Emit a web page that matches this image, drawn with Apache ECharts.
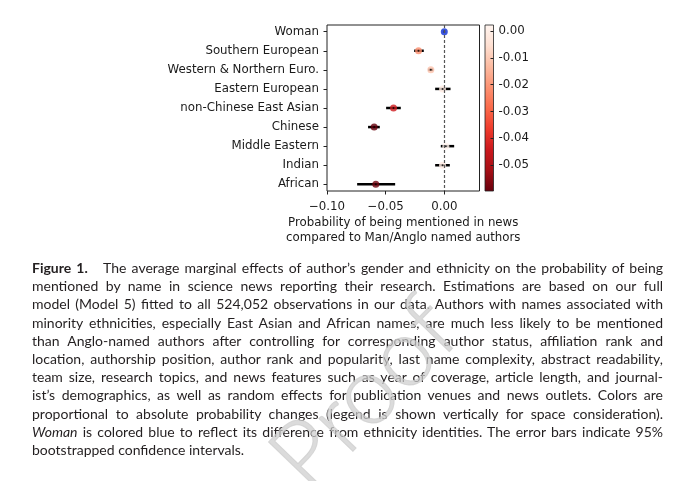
<!DOCTYPE html>
<html>
<head>
<meta charset="utf-8">
<script src="https://cdn.jsdelivr.net/npm/echarts@6.0.0/dist/echarts.min.js"></script>
<style>
html, body { margin: 0; padding: 0; background: #fff; }
#wrap { position: relative; width: 680px; height: 481px; overflow: hidden; }
#chart { position: absolute; left: 0; top: 0; width: 680px; height: 481px; }
#caption { position: absolute; left: 32px; top: 259px; width: 631px;
  font-family: Lato, "Noto Sans", sans-serif; font-size: 14px; line-height: 18.2px; color: #231f20; }
#caption div { text-align: justify; text-align-last: justify; }
#caption div.last { text-align-last: left; }
#proof { position: absolute; left: 244px; top: 343px; width: 234px; height: 95px; text-align: center;
  font-family: Lato, sans-serif; font-size: 95px; font-weight: 300; line-height: 95px;
  color: rgba(205,205,205,0.72); -webkit-text-stroke: 1px rgba(205,205,205,0.72);
  transform: rotate(-46deg); transform-origin: 50% 50%; pointer-events: none; }
</style>
</head>
<body>
<div id="wrap">
  <div id="chart"></div>
  <div id="caption">
    <div><b>Figure 1.</b>&nbsp;&nbsp; The average marginal effects of author’s gender and ethnicity on the probability of being</div>
    <div>mentioned by name in science news reporting their research. Estimations are based on our full</div>
    <div>model (Model 5) fitted to all 524,052 observations in our data. Authors with names associated with</div>
    <div>minority ethnicities, especially East Asian and African names, are much less likely to be mentioned</div>
    <div>than Anglo-named authors after controlling for corresponding author status, affiliation rank and</div>
    <div>location, authorship position, author rank and popularity, last name complexity, abstract readability,</div>
    <div>team size, research topics, and news features such as year of coverage, article length, and journal-</div>
    <div>ist’s demographics, as well as random effects for publication venues and news outlets. Colors are</div>
    <div>proportional to absolute probability changes (legend is shown vertically for space consideration).</div>
    <div><i>Woman</i> is colored blue to reflect its difference from ethnicity identities. The error bars indicate 95%</div>
    <div class="last">bootstrapped confidence intervals.</div>
  </div>
  <div id="proof">Proof</div>
</div>
<script>
// categories top to bottom
var cats = ['Woman', 'Southern European', 'Western & Northern Euro.', 'Eastern European',
    'non-Chinese East Asian', 'Chinese', 'Middle Eastern', 'Indian', 'African'];
// average marginal effect and 95% interval
var est    = [0.0000, -0.0220, -0.0115, -0.0015, -0.0433, -0.0598, 0.0013, -0.0015, -0.0584];
var ciLow  = [-0.0008, -0.0257, -0.0135, -0.0078, -0.0496, -0.0650, -0.0030, -0.0078, -0.0743];
var ciHigh = [0.0008, -0.0175, -0.0095, 0.0053, -0.0371, -0.0550, 0.0084, 0.0047, -0.0419];
var xTicks = [-0.10, -0.05, 0.00];
var cbTicks = [0.00, -0.01, -0.02, -0.03, -0.04, -0.05];
var cbMin = -0.0596;
var cbMax = 0.0022;
// matplotlib Reds, light to dark
var reds = ['#fff5f0', '#fee0d2', '#fcbba1', '#fc9272', '#fb6a4a', '#ef3b2c', '#cb181d', '#a50f15', '#67000d'];
var womanColor = '#0b2dd4';

var font = "'DejaVu Sans'";
var txt = '#1a1a1a';
var fs = 11.8;

var idx = [];
for (var i = 0; i < cats.length; i++) idx.push(i);

var bars = [];
var pts = [];
var dots = [];
for (var i = 0; i < cats.length; i++) {
    bars.push([ciLow[i], ciHigh[i], i]);
    if (i > 0) {
        pts.push([est[i], i]);
        dots.push([est[i], i]);
    }
}

var myChart = echarts.init(document.getElementById('chart'));
var option = {
    animation: false,
    textStyle: { fontFamily: font },
    grid: [
        { left: 327, top: 25, width: 152.5, height: 166, show: true, borderColor: '#222', borderWidth: 1 },
        { left: 485, top: 25, width: 8.5, height: 166, show: false }
    ],
    visualMap: {
        show: false,
        type: 'continuous',
        seriesIndex: 1,
        dimension: 0,
        min: cbMin,
        max: cbMax,
        inRange: { color: reds.slice().reverse() }
    },
    xAxis: [
        {
            gridIndex: 0, type: 'value', min: -0.10, max: 0.03, position: 'bottom',
            axisLine: { show: false, onZero: false },
            splitLine: { show: false },
            axisTick: { show: true, length: 3.5, customValues: xTicks, lineStyle: { color: '#222', width: 1 } },
            axisLabel: {
                customValues: xTicks, margin: 10, fontSize: fs, color: txt, fontFamily: font,
                formatter: function (v) { return (v < 0 ? '\u2212' : '') + Math.abs(v).toFixed(2); }
            },
            name: 'Probability of being mentioned in news\ncompared to Man/Anglo named authors',
            nameLocation: 'middle',
            nameGap: 25,
            nameTextStyle: { fontSize: fs, lineHeight: 14.5, color: txt, fontFamily: font }
        },
        { gridIndex: 1, type: 'value', min: 0, max: 1, show: false, axisLine: { onZero: false } }
    ],
    yAxis: [
        {
            gridIndex: 0, type: 'value', inverse: true, min: -0.35, max: 8.35, position: 'left',
            axisLine: { show: false, onZero: false },
            splitLine: { show: false },
            axisTick: { show: true, length: 3.5, customValues: idx, lineStyle: { color: '#222', width: 1 } },
            axisLabel: {
                customValues: idx, margin: 8, fontSize: fs, color: txt, fontFamily: font,
                formatter: function (v) { return cats[Math.round(v)]; }
            }
        },
        {
            gridIndex: 1, type: 'value', position: 'right', min: cbMin, max: cbMax,
            axisLine: { show: false, onZero: false },
            splitLine: { show: false },
            axisTick: { show: true, inside: true, length: 3, customValues: cbTicks, lineStyle: { color: '#222', width: 1 } },
            axisLabel: {
                customValues: cbTicks, margin: 5, fontSize: fs, color: txt, fontFamily: font,
                formatter: function (v) { return Math.abs(v) < 1e-9 ? '0.00' : v.toFixed(2); }
            }
        }
    ],
    series: [
        {
            // error bars + zero line
            type: 'custom',
            xAxisIndex: 0, yAxisIndex: 0,
            z: 1,
            data: bars,
            encode: { x: [0, 1], y: 2 },
            renderItem: function (params, api) {
                var a = api.coord([api.value(0), api.value(2)]);
                var b = api.coord([api.value(1), api.value(2)]);
                return {
                    type: 'line',
                    shape: { x1: a[0], y1: a[1], x2: b[0], y2: b[1] },
                    style: { stroke: '#000', lineWidth: 2.5 }
                };
            },
            markLine: {
                silent: true,
                symbol: ['none', 'none'],
                label: { show: false },
                lineStyle: { color: '#555', type: [3, 2], width: 1.2 },
                data: [{ xAxis: 0 }]
            }
        },
        {
            type: 'scatter',
            xAxisIndex: 0, yAxisIndex: 0,
            z: 3,
            symbolSize: 7,
            data: pts
        },
        {
            type: 'scatter',
            xAxisIndex: 0, yAxisIndex: 0,
            z: 3,
            symbolSize: 7,
            itemStyle: { color: womanColor },
            data: [[est[0], 0]]
        },
        {
            type: 'scatter',
            xAxisIndex: 0, yAxisIndex: 0,
            z: 4,
            symbolSize: 2,
            itemStyle: { color: '#000' },
            data: dots
        },
        {
            // colour bar
            type: 'custom',
            xAxisIndex: 1, yAxisIndex: 1,
            z: 0,
            data: [[0, cbMax, 1, cbMin]],
            encode: { x: [0, 2], y: [1, 3] },
            renderItem: function (params, api) {
                var p0 = api.coord([api.value(0), api.value(1)]);
                var p1 = api.coord([api.value(2), api.value(3)]);
                var stops = [];
                for (var k = 0; k < reds.length; k++) {
                    stops.push({ offset: k / (reds.length - 1), color: reds[k] });
                }
                return {
                    type: 'rect',
                    shape: { x: p0[0], y: p0[1], width: p1[0] - p0[0], height: p1[1] - p0[1] },
                    style: { fill: new echarts.graphic.LinearGradient(0, 0, 0, 1, stops), stroke: '#222', lineWidth: 0.8 }
                };
            }
        }
    ]
};
myChart.setOption(option);
</script>
</body>
</html>
